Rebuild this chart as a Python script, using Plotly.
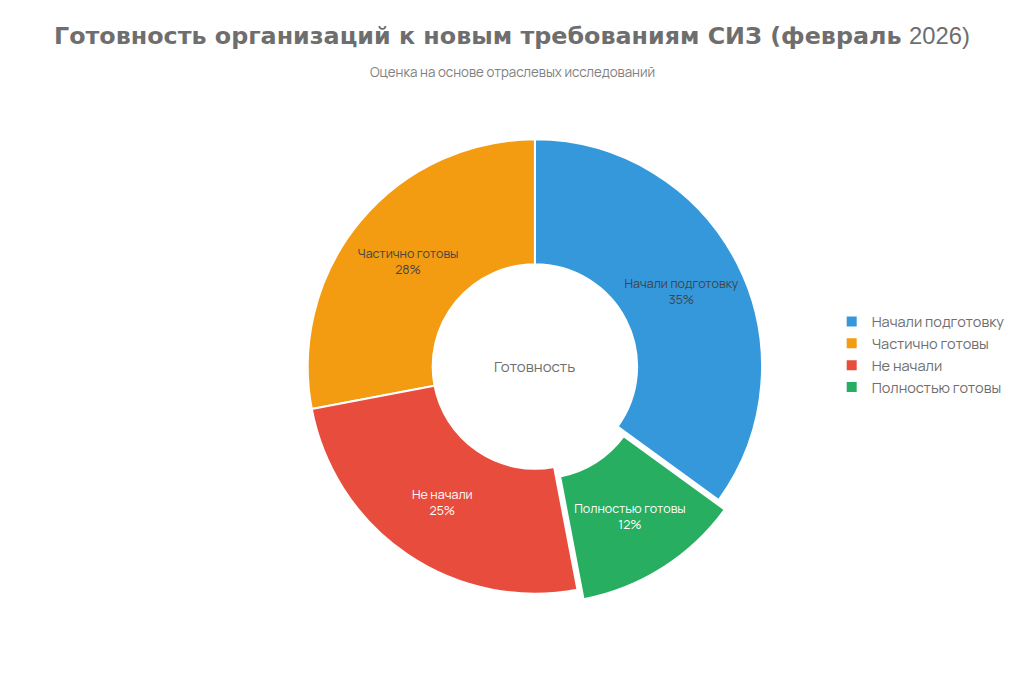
import plotly.graph_objects as go

labels = ["Начали подготовку", "Частично готовы", "Не начали", "Полностью готовы"]
values = [35, 28, 25, 12]
colors = ["#3498db", "#f39c12", "#e74c3c", "#27ae60"]
pulls = [0, 0, 0, 0.05]

title_text = ("<b>Готовность организаций к новым требованиям СИЗ (февраль</b> "
              "<span style='font-family:Liberation Sans'>2026)</span>")
subtitle_text = "Оценка на основе отраслевых исследований"
center_text = "Готовность"

fig = go.Figure(go.Pie(
    labels=labels,
    values=values,
    hole=0.45,
    pull=pulls,
    domain=dict(x=[0.227, 0.827]),
    marker=dict(colors=colors, line=dict(color="white", width=2)),
    textinfo="label+percent",
    textposition="inside",
    insidetextorientation="horizontal",
    textfont=dict(size=12.5),
    sort=True,
    direction="counterclockwise",
))

fig.update_layout(
    font=dict(family="Manrope", color="#6e6e6e"),
    title=dict(
        text=title_text,
        x=0.5,
        xref="container",
        xanchor="center",
        y=0.958,
        yref="container",
        yanchor="middle",
        font=dict(family="DejaVu Sans", size=23.8, color="#6e6e6e"),
    ),
    annotations=[
        dict(text=subtitle_text, x=0.5, y=1.1174, xref="paper", yref="paper", yanchor="middle",
             showarrow=False, font=dict(size=13.3, color="#808080")),
        dict(text=center_text, x=0.527, y=0.5, xref="paper", yref="paper",
             showarrow=False, font=dict(size=15, color="#6e6e6e")),
    ],
    legend=dict(x=0.877, y=0.525, yanchor="middle", font=dict(size=14.5, color="#6e6e6e")),
    margin=dict(l=80, r=80, t=120, b=70, autoexpand=False),
    paper_bgcolor="white",
)

fig.write_html("out.html")
